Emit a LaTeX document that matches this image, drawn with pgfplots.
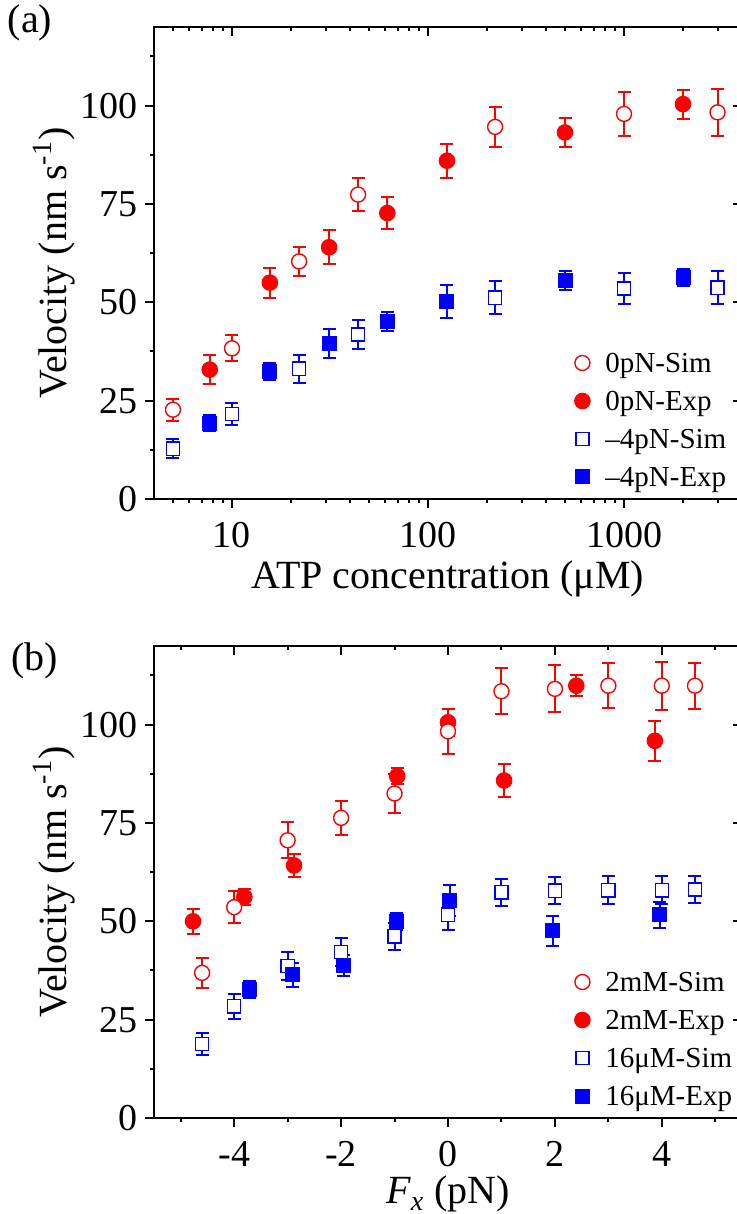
\documentclass[border=0pt]{standalone}
\usepackage{fontspec}
\setmainfont{Liberation Serif}
\usepackage{pgfplots}
\pgfplotsset{compat=1.18}
\definecolor{myred}{RGB}{255,0,0}
\definecolor{myblue}{RGB}{0,0,255}
\pgfplotsset{
 base/.style={
   scale only axis, width=294pt, height=236pt,
   ymin=0, ymax=120, ytick={0,25,50,75,100},
   minor ytick={12.5,37.5,62.5,87.5,112.5},
   axis line style={line width=1pt},
   major tick style={line width=1pt, black}, minor tick style={line width=1pt, black},
   major tick length=4.5pt, minor tick length=2.2pt,
   tick label style={font=\fontsize{19}{21}\selectfont},
   xticklabel style={inner sep=7pt},
   yticklabel style={inner sep=3.5pt},
   label style={font=\fontsize{20}{22}\selectfont},
   /pgf/number format/assume math mode=true,
 },
 mainax/.style={base, tick align=outside, xtick pos=left, ytick pos=left,
   yticklabels={0,25,50,75,100},
   ylabel style={at={(axis description cs:-0.170,0.5)}, anchor=center},
   legend cell align=left,
   legend image code/.code={\path[draw=none] (0pt,0pt) (17pt,0pt); \draw[##1] plot coordinates {(8.5pt,4.8pt)};},
   legend style={at={(axis description cs:0.699,0.311)}, anchor=north west, draw=none, fill=none,
     font=\fontsize{14.5}{16}\selectfont, inner sep=0pt, row sep=6pt, column sep=3pt,
     nodes={inner sep=0pt, text height=10pt, text depth=3pt, anchor=base west}},
 },
 overax/.style={base, tick align=inside, xtick pos=right, ytick pos=right, xticklabels={}, yticklabels={}},
 redsim/.style={only marks, color=myred, mark=*, mark size=3.75pt, mark options={fill=white, draw=myred, line width=0.7pt}},
 redexp/.style={only marks, color=myred, mark=*, mark size=3.9pt, mark options={fill=myred, draw=myred, line width=0.5pt}},
 bluesim/.style={only marks, color=myblue, mark=square*, mark size=3.3pt, mark options={fill=white, draw=myblue, line width=0.7pt}},
 blueexp/.style={only marks, color=myblue, mark=square*, mark size=3.5pt, mark options={fill=myblue, draw=myblue, line width=0.5pt}},
 ebr/.style={error bars/y dir=both, error bars/y explicit,
   error bars/error bar style={line width=1pt, color=myred},
   error bars/error mark options={rotate=90, line width=1pt, mark size=3.25pt, color=myred}},
 ebb/.style={error bars/y dir=both, error bars/y explicit,
   error bars/error bar style={line width=1pt, color=myblue},
   error bars/error mark options={rotate=90, line width=1pt, mark size=3.25pt, color=myblue}},
 mylogticks/.style={xmin=4, xmax=4000, xtick={10,100,1000},
   minor xtick={5,6,7,8,9,20,30,40,50,60,70,80,90,200,300,400,500,600,700,800,900,2000,3000}},
 mylinticks/.style={xmin=-5.5, xmax=5.5, xtick={-4,-2,0,2,4},
   minor xtick={-5,-3,-1,1,3,5}},
}
\begin{document}
\begin{tikzpicture}
% ---------------- panel (a)
\begin{axis}[xmode=log, mylogticks, mainax, xticklabels={10,100,1000}, at={(0pt,309.5pt)}, anchor=south west,
  xlabel={ATP concentration (μM)}, ylabel={Velocity (nm s\textsuperscript{-1})},
  xlabel style={at={(axis description cs:0.5,-0.190)}, anchor=base}]
\addlegendimage{redsim}\addlegendentry{0pN-Sim}
\addlegendimage{redexp}\addlegendentry{0pN-Exp}
\addlegendimage{bluesim}\addlegendentry{–4pN-Sim}
\addlegendimage{blueexp}\addlegendentry{–4pN-Exp}
\addplot[redexp, forget plot, ebr] coordinates {
 (7.7,32.9) +- (0,3.7) (15.6,55.0) +- (0,3.8) (31.3,64.0) +- (0,4.3) (62,72.7) +- (0,4.0)
 (125,86.0) +- (0,4.3) (500,93.2) +- (0,3.7) (2000,100.4) +- (0,3.7)};
\addplot[redsim, forget plot, ebr] coordinates {
 (5,22.7) +- (0,2.8) (10,38.3) +- (0,3.3) (22,60.4) +- (0,3.7) (44,77.4) +- (0,4.2)
 (220,94.6) +- (0,5.1) (1000,97.9) +- (0,5.6) (3000,98.3) +- (0,5.9)};
\addplot[bluesim, forget plot, ebb] coordinates {
 (5,12.8) +- (0,2.5) (10,21.6) +- (0,2.8) (22,33.1) +- (0,3.5) (44,41.8) +- (0,3.7)
 (220,51.2) +- (0,4.2) (1000,53.5) +- (0,4.0) (3000,53.7) +- (0,4.2)};
\addplot[blueexp, forget plot, ebb] coordinates {
 (7.7,19.3) +- (0,2.0) (15.6,32.5) +- (0,2.2) (31.3,39.5) +- (0,3.6) (62,45.1) +- (0,2.4)
 (125,50.1) +- (0,4.2) (500,55.6) +- (0,2.4) (2000,56.3) +- (0,2.1)};
\end{axis}
\begin{axis}[xmode=log, mylogticks, overax, at={(0pt,309.5pt)}, anchor=south west]
\end{axis}
% ---------------- panel (b)
\begin{axis}[mylinticks, mainax, xticklabels={-4,-2,0,2,4}, at={(0pt,0pt)}, anchor=south west,
  xlabel={\textit{F}\textsubscript{\textit{x}} (pN)}, ylabel={Velocity (nm s\textsuperscript{-1})},
  xlabel style={at={(axis description cs:0.5,-0.182)}, anchor=base}]
\addlegendimage{redsim}\addlegendentry{2mM-Sim}
\addlegendimage{redexp}\addlegendentry{2mM-Exp}
\addlegendimage{bluesim}\addlegendentry{16μM-Sim}
\addlegendimage{blueexp}\addlegendentry{16μM-Exp}
\addplot[redexp, forget plot, ebr] coordinates {
 (-4.77,50.0) +- (0,3.1) (-3.81,56.2) +- (0,2.0) (-2.88,64.2) +- (0,3.0) (-0.95,86.9) +- (0,2.0)
 (0,100.6) +- (0,3.5) (1.05,85.8) +- (0,4.1) (2.4,109.9) +- (0,2.6) (3.87,95.9) +- (0,5.1)};
\addplot[redsim, forget plot, ebr] coordinates {
 (-4.6,36.9) +- (0,3.8) (-4,53.6) +- (0,4.1) (-3,70.6) +- (0,4.6) (-2,76.3) +- (0,4.4)
 (-1,82.5) +- (0,5.0) (0,98.3) +- (0,5.8) (1,108.5) +- (0,5.8) (2,109.1) +- (0,6.0)
 (3,109.9) +- (0,5.7) (4,109.9) +- (0,6.1) (4.62,109.9) +- (0,5.8)};
\addplot[bluesim, forget plot, ebb] coordinates {
 (-4.6,18.8) +- (0,2.8) (-4,28.4) +- (0,3.2) (-3,38.6) +- (0,3.5) (-2,42.2) +- (0,3.6)
 (-1,46.2) +- (0,3.5) (0,51.7) +- (0,3.8) (1,57.4) +- (0,3.4) (2,57.8) +- (0,3.5)
 (3,57.9) +- (0,3.5) (4,57.9) +- (0,3.5) (4.62,58.1) +- (0,3.5)};
\addplot[blueexp, forget plot, ebb] coordinates {
 (-3.71,32.6) +- (0,2.2) (-2.9,36.4) +- (0,3.0) (-1.95,38.7) +- (0,2.7) (-0.96,50.0) +- (0,2.2)
 (0.03,55.3) +- (0,3.9) (1.96,47.6) +- (0,3.8) (3.96,51.7) +- (0,3.3)};
\end{axis}
\begin{axis}[mylinticks, overax, at={(0pt,0pt)}, anchor=south west]
\end{axis}
\node[font=\fontsize{20}{22}\selectfont] at (-62pt,547.5pt) {(a)};
\node[font=\fontsize{20}{22}\selectfont] at (-59.5pt,228.5pt) {(b)};
\pgfresetboundingbox
\useasboundingbox (-77pt,-48pt) rectangle (291.5pt,559pt);
\end{tikzpicture}
\end{document}
